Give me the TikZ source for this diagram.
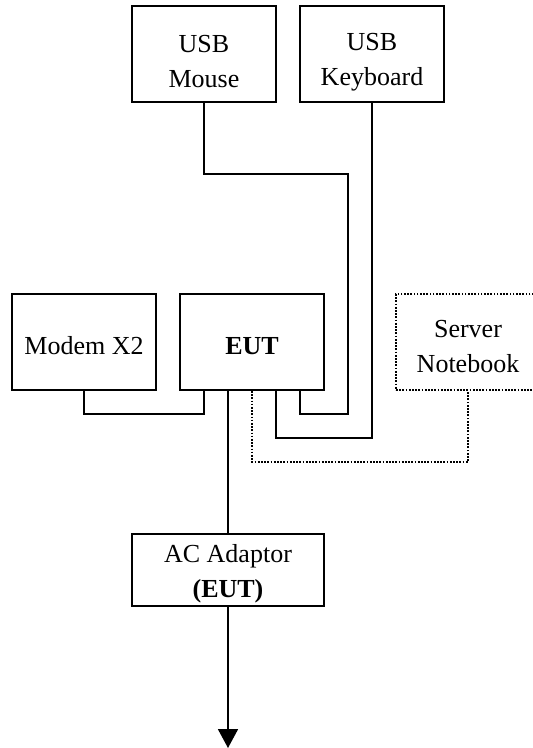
\documentclass[tikz,border=0pt]{standalone}
\usepackage{fontspec}
\setmainfont{Liberation Serif}
\usetikzlibrary{arrows.meta}
% strut that sets a label a little lower in its box
\newcommand{\droptext}[1]{\rule{0pt}{#1}}
\begin{document}
\begin{tikzpicture}[x=1pt,y=-1pt,
  unit/.style={draw,line width=1.8pt,minimum width=144pt,minimum height=96pt,
    inner sep=0pt,align=center,font=\fontsize{26}{35}\selectfont},
  dotbox/.style={unit,line width=1.7pt,dash pattern=on 1.7pt off 1.5pt},
  wire/.style={line width=1.8pt},
  dotwire/.style={line width=1.7pt,dash pattern=on 1.7pt off 1.5pt}]
\useasboundingbox (0,0) rectangle (533,748);
\clip (0,0) rectangle (533,748);

% devices
\node[unit] (mouse) at (204,54) {\droptext{33pt}USB\\Mouse};
\node[unit] (kbd) at (372,54) {\droptext{33pt}USB\\Keyboard};
\node[unit] (modem) at (84,342) {\droptext{26pt}Modem X2};
\node[unit] (eut) at (252,342) {\droptext{25pt}\textbf{EUT}};
\node[dotbox] (server) at (468,342) {\droptext{26pt}Server\\Notebook};
\node[unit,minimum width=192pt,minimum height=72pt] (ac) at (228,570)
  {\droptext{26pt}AC Adaptor\\\textbf{(EUT)}};
\coordinate (mains) at (228,748);

% cables to the EUT
\draw[wire] (mouse.south) |- (348,174) -- (348,414) -| ([xshift=48pt]eut.south);
\draw[wire] (kbd.south) -- (372,438) -| ([xshift=24pt]eut.south);
\draw[wire] (modem.south) -- ++(0,23) -| ([xshift=-48pt]eut.south);
\draw[dotwire] (eut.south) -- ++(0,71) -| (server.south);
\draw[wire] ([xshift=-24pt]eut.south) -- (ac.north);
\draw[wire,-{Triangle[width=20pt,length=19pt]}] (ac.south) -- (mains);
\end{tikzpicture}
\end{document}
